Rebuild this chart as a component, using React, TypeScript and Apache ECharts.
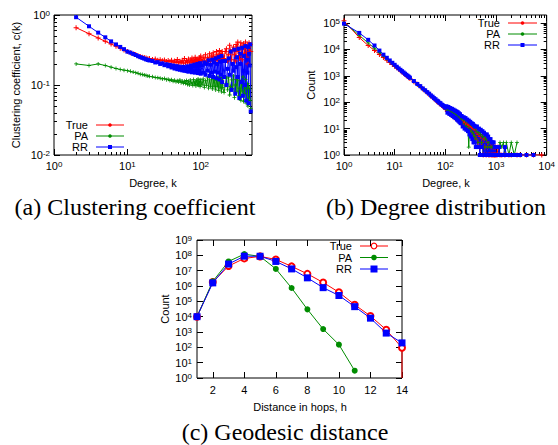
import React, { useEffect, useRef } from "react";
import * as echarts from "echarts";

// ---------- (a) Clustering coefficient ----------
const kA = [
  2, 3, 4, 5, 6, 7, 8, 9, 10, 11, 12, 13, 14, 15, 16, 17, 18, 19, 20,
  22, 24, 26, 28, 30, 32, 34, 36, 38, 40, 42, 44, 46, 48, 50, 52, 54, 56, 58, 60,
  62, 64, 66, 68, 70, 72, 74, 76, 78, 80, 82, 84, 86, 88, 90, 92, 94, 96, 98, 100,
  104, 108, 112, 116, 120, 124, 128, 132, 136, 140, 144, 148, 152, 156, 160, 164, 168, 172, 176, 180, 184, 188, 192, 196, 200,
  208, 216, 224, 232, 240, 248, 256, 264, 272, 280, 288, 296, 304, 312, 320, 328, 336, 344, 352, 360, 368, 376, 384, 392, 400, 408, 416, 424, 432, 440, 448, 456, 464, 472, 480,
];
const trueA = [
  0.66, 0.54, 0.47, 0.42, 0.385, 0.357, 0.334, 0.315, 0.3, 0.29, 0.28, 0.272, 0.262, 0.255, 0.25, 0.247, 0.243, 0.238, 0.24,
  0.232, 0.236, 0.226, 0.229, 0.222, 0.228, 0.216, 0.224, 0.214, 0.226, 0.212, 0.22, 0.209, 0.232, 0.207, 0.218, 0.21, 0.225, 0.205, 0.24,
  0.208, 0.222, 0.212, 0.235, 0.206, 0.228, 0.215, 0.244, 0.21, 0.226, 0.218, 0.25, 0.212, 0.232, 0.22, 0.238, 0.214, 0.246, 0.222, 0.26,
  0.215, 0.25, 0.222, 0.27, 0.21, 0.245, 0.23, 0.28, 0.218, 0.26, 0.235, 0.29, 0.22, 0.255, 0.24, 0.3, 0.225, 0.27, 0.25, 0.31, 0.23, 0.28, 0.245, 0.3, 0.26,
  0.24, 0.3, 0.33, 0.22, 0.27, 0.37, 0.3, 0.23, 0.32, 0.35, 0.27, 0.22, 0.38, 0.3, 0.41, 0.26, 0.24, 0.34, 0.4, 0.28, 0.23, 0.36, 0.39, 0.27, 0.33, 0.41, 0.29, 0.25, 0.37, 0.2, 0.35, 0.4, 0.3, 0.38, 0.3,
];
const paA = [
  0.2, 0.19, 0.2, 0.19, 0.18, 0.172, 0.167, 0.163, 0.16, 0.157, 0.153, 0.15, 0.147, 0.143, 0.141, 0.139, 0.137, 0.135, 0.133,
  0.131, 0.128, 0.127, 0.125, 0.122, 0.124, 0.119, 0.121, 0.116, 0.119, 0.113, 0.117, 0.111, 0.115, 0.11, 0.118, 0.108, 0.114, 0.106, 0.113,
  0.105, 0.116, 0.102, 0.112, 0.1, 0.118, 0.104, 0.11, 0.098, 0.12, 0.103, 0.112, 0.097, 0.117, 0.101, 0.122, 0.099, 0.113, 0.095, 0.119,
  0.1, 0.122, 0.092, 0.115, 0.098, 0.126, 0.09, 0.118, 0.096, 0.13, 0.088, 0.12, 0.094, 0.125, 0.085, 0.117, 0.095, 0.13, 0.083, 0.12, 0.09, 0.128, 0.08, 0.118, 0.092,
  0.078, 0.1, 0.125, 0.085, 0.13, 0.072, 0.095, 0.118, 0.088, 0.135, 0.066, 0.1, 0.12, 0.08, 0.128, 0.07, 0.09, 0.115, 0.06, 0.11, 0.082, 0.13, 0.058, 0.1, 0.075, 0.12, 0.055, 0.09, 0.105, 0.05, 0.095, 0.065, 0.088, 0.06, 0.046,
];
const rrA = [
  0.93, 0.69, 0.56, 0.48, 0.42, 0.38, 0.35, 0.325, 0.3, 0.29, 0.278, 0.268, 0.258, 0.25, 0.244, 0.238, 0.232, 0.228, 0.224,
  0.22, 0.21, 0.212, 0.2, 0.204, 0.192, 0.198, 0.185, 0.194, 0.178, 0.19, 0.172, 0.186, 0.168, 0.184, 0.165, 0.18, 0.162, 0.182, 0.16,
  0.178, 0.158, 0.185, 0.155, 0.18, 0.16, 0.19, 0.152, 0.182, 0.158, 0.195, 0.15, 0.184, 0.162, 0.2, 0.148, 0.188, 0.16, 0.205, 0.145,
  0.19, 0.15, 0.21, 0.14, 0.2, 0.16, 0.225, 0.135, 0.195, 0.15, 0.23, 0.13, 0.21, 0.155, 0.24, 0.125, 0.2, 0.15, 0.25, 0.12, 0.215, 0.14, 0.26, 0.11, 0.22,
  0.13, 0.22, 0.1, 0.17, 0.24, 0.14, 0.3, 0.085, 0.2, 0.16, 0.32, 0.075, 0.18, 0.25, 0.13, 0.33, 0.065, 0.2, 0.28, 0.11, 0.34, 0.07, 0.16, 0.26, 0.1, 0.36, 0.06, 0.23, 0.15, 0.35, 0.055, 0.28, 0.19, 0.38, 0.042,
];

// ---------- (b) Degree distribution ----------
const kB = [
  1, 2, 3, 4, 5, 6, 7, 8, 9, 10, 11, 12, 13, 14, 15, 16, 17, 18, 19, 20,
  24, 28, 32, 36, 40, 44, 48, 52, 56, 60, 64, 68, 72, 76, 80, 84, 88, 92, 96, 100,
  105, 110, 115, 120, 125, 130, 135, 140, 145, 150, 155, 160, 165, 170, 175, 180, 185, 190, 195, 200,
  210, 220, 230, 240, 250, 260, 270, 280, 290, 300, 310, 320, 330, 340, 350, 360, 370, 380, 390, 400,
  420, 440, 460, 480, 500, 520, 540, 560, 580, 600, 620, 640, 660, 680, 700, 720, 740, 760, 780, 800, 820, 840, 860, 880, 900, 920, 940, 960, 980, 1000,
  1050, 1100, 1150, 1200, 1300, 1400, 1500, 1600, 1800, 2000, 2300, 2600, 3000, 4000, 5500, 8000,
];
const trueB: (number | null)[] = [
  120000, 28000, 14000, 9000, 6400, 4900, 3900, 3200, 2700, 2300, 2000, 1750, 1550, 1380, 1240, 1120, 1010, 930, 850, 780,
  600, 475, 390, 315, 268, 226, 200, 168, 152, 134, 124, 106, 103, 88, 87, 76, 72, 66, 63, 57,
  58, 44, 52, 38, 46, 33, 42, 30, 37, 26, 35, 24, 31, 22, 30, 20, 27, 18, 25, 17,
  21, 14, 19, 12, 17, 11, 15, 9, 14, 8, 13, 7, 12, 6, 11, 5, 10, 5, 9, 4,
  7, 3, 6, 2, 5, 3, 6, 1, 4, 2, 5, 1, 4, 2, 3, 1, 4, 1, 3, 2, 1, 3, 1, 2, 1, 2, 1, 1, 2, 1,
  1, 2, null, 1, 1, null, 1, null, 1, 1, null, 1, 1, 1, 1, 1,
];
const paB: (number | null)[] = [
  105000, 34000, 17500, 11000, 7600, 5600, 4400, 3600, 2950, 2500, 2150, 1870, 1650, 1460, 1310, 1180, 1070, 980, 900, 825,
  615, 470, 400, 320, 275, 232, 205, 172, 158, 140, 126, 112, 104, 92, 90, 80, 76, 70, 66, 60,
  62, 48, 55, 41, 50, 36, 45, 32, 40, 29, 38, 26, 34, 24, 32, 22, 30, 20, 27, 19,
  24, 15, 22, 13, 20, 12, 18, 10, 2, 9, 15, 8, 14, 7, 13, 6, 12, 5, 10, 4,
  8, 3, 7, 2, 6, 3, 5, 1, 5, 2, 4, 1, 4, 2, 3, 1, 3, 2, 1, 3, 1, 2, 1, 2, 1, 1, 2, 1, 1, 1,
  1, null, 1, 3, 2, 3, 1, 3, 1, 3, 1, 3, null, null, null, null,
];
const rrB: (number | null)[] = [
  94000, 42000, 23000, 14000, 9000, 6300, 4800, 3800, 3100, 2600, 2200, 1900, 1680, 1490, 1330, 1200, 1090, 1000, 920, 845,
  630, 490, 405, 330, 282, 240, 210, 180, 162, 142, 130, 115, 108, 96, 92, 82, 78, 72, 68, 62,
  70, 40, 66, 36, 60, 33, 56, 30, 52, 27, 48, 25, 45, 22, 42, 20, 38, 18, 35, 16,
  30, 12, 27, 10, 25, 9, 22, 8, 20, 6, 18, 5, 16, 4, 15, 3, 13, 3, 12, 2,
  12, 2, 10, 1, 9, 2, 8, 1, 7, 1, 6, 1, 6, 1, 5, 1, 4, 1, 4, 1, 3, 1, 3, 1, 3, 1, 2, 1, 2, 1,
  1, 1, 2, 1, 1, 1, 2, 1, 1, 1, 1, 1, 1, 1, 1, null,
];

// ---------- (c) Geodesic distance ----------
const hopsC = [1, 2, 3, 4, 5, 6, 7, 8, 9, 10, 11, 12, 13, 14];
const hopsTrueC = [1, 2, 3, 4, 5, 6, 7, 8, 9, 10, 11, 12, 13, 14, 14];
const trueC = [1e4, 1.8e6, 2e7, 6.3e7, 8.5e7, 5.4e7, 1.9e7, 6.2e6, 1.7e6, 3.9e5, 6e4, 1.1e4, 1.4e3, 93, 1];
const paC: (number | null)[] = [1e4, 2e6, 4e7, 1.2e8, 8.5e7, 1.3e7, 7.4e5, 3e4, 1.55e3, 150, 3, null, null, null];
const rrC = [1e4, 1.6e6, 2.7e7, 8.8e7, 8.7e7, 4e7, 1.3e7, 3.4e6, 7.8e5, 2.4e5, 4.5e4, 8e3, 850, 195];

// ---------- ticks ----------
const xMajorA = [1, 10, 100];
const xMinorA = [2, 3, 4, 5, 6, 7, 8, 9, 20, 30, 40, 50, 60, 70, 80, 90, 200, 300, 400];
const yMajorA = [0.01, 0.1, 1];
const yMinorA = [0.02, 0.03, 0.04, 0.05, 0.06, 0.07, 0.08, 0.09, 0.2, 0.3, 0.4, 0.5, 0.6, 0.7, 0.8, 0.9];
const xMajorB = [1, 10, 100, 1000, 10000];
const xMinorB = [2, 3, 4, 5, 6, 7, 8, 9, 20, 30, 40, 50, 60, 70, 80, 90, 200, 300, 400, 500, 600, 700, 800, 900, 2000, 3000, 4000, 5000, 6000, 7000, 8000, 9000];
const yMajorB = [1, 10, 100, 1000, 10000, 100000];
const yMinorB = [2, 3, 4, 5, 6, 7, 8, 9, 20, 30, 40, 50, 60, 70, 80, 90, 200, 300, 400, 500, 600, 700, 800, 900, 2000, 3000, 4000, 5000, 6000, 7000, 8000, 9000, 20000, 30000, 40000, 50000, 60000, 70000, 80000, 90000];
const xMajorC = [2, 4, 6, 8, 10, 12, 14];
const yMajorC = [1, 10, 100, 1e3, 1e4, 1e5, 1e6, 1e7, 1e8, 1e9];

const RED = "#ff0000";
const GREEN = "#008c00";
const BLUE = "#0000ff";
const SANS = "Liberation Sans";
const SERIF = "Liberation Serif";
const PLUS = "path://M2,0H3V2H5V3H3V5H2V3H0V2H2Z";

const lg = (a: number[]) => a.map((v) => Math.log10(v));

const pts = (xs: number[], ys: (number | null)[], logX: boolean) =>
  xs.flatMap((x, i) => {
    const y = ys[i];
    if (y == null) return [];
    return [[logX ? Math.log10(x) : x, Math.log10(y)]];
  });

const richPow = {
  b: { fontSize: 11, fontFamily: SANS, color: "#000", verticalAlign: "bottom" },
  s: { fontSize: 8, fontFamily: SANS, color: "#000", verticalAlign: "top" },
};
const powFmt = (v: number) => `{b|10}{s|${Math.round(v)}}`;

function axis(
  gridIndex: number,
  position: string,
  min: number,
  max: number,
  ticks: number[],
  len: number,
  label: null | { margin: number; pow: boolean }
) {
  return {
    type: "value",
    gridIndex,
    position,
    min,
    max,
    axisLine: { show: false, onZero: false },
    splitLine: { show: false },
    axisTick: {
      show: true,
      inside: true,
      length: len,
      customValues: ticks,
      lineStyle: { color: "#000", width: 1 },
    },
    axisLabel: label
      ? {
          show: true,
          customValues: ticks,
          margin: label.margin,
          color: "#000",
          fontSize: 11,
          fontFamily: SANS,
          formatter: label.pow ? powFmt : (v: number) => String(Math.round(v)),
          rich: label.pow ? richPow : undefined,
        }
      : { show: false },
  };
}

function txt(x: number, y: number, text: string, size: number, family: string, align = "center", rotation = 0) {
  return {
    type: "text",
    x,
    y,
    rotation,
    silent: true,
    style: { text, fontSize: size, fontFamily: family, fill: "#000", align, verticalAlign: "middle" },
  };
}

function legendRow(
  xText: number,
  x1: number,
  x2: number,
  y: number,
  label: string,
  color: string,
  marker: "dot" | "square" | "ring" | "bigdot" | "bigsquare"
) {
  const cx = (x1 + x2) / 2;
  const els: any[] = [
    txt(xText, y, label, 11, SANS, "right"),
    { type: "line", silent: true, shape: { x1, y1: y, x2, y2: y }, style: { stroke: color, lineWidth: 1 } },
  ];
  if (marker === "dot") els.push({ type: "circle", silent: true, shape: { cx, cy: y, r: 1.8 }, style: { fill: color } });
  if (marker === "square")
    els.push({ type: "rect", silent: true, shape: { x: cx - 2, y: y - 2, width: 4, height: 4 }, style: { fill: color } });
  if (marker === "ring")
    els.push({ type: "circle", silent: true, shape: { cx, cy: y, r: 2.8 }, style: { fill: "#fff", stroke: color, lineWidth: 1.2 } });
  if (marker === "bigdot") els.push({ type: "circle", silent: true, shape: { cx, cy: y, r: 2.8 }, style: { fill: color } });
  if (marker === "bigsquare")
    els.push({ type: "rect", silent: true, shape: { x: cx - 3.5, y: y - 3.5, width: 7, height: 7 }, style: { fill: color } });
  return els;
}

function lineSeries(name: string, xi: number, yi: number, data: any[], color: string, symbol: string, size: number, extra: any = {}) {
  return {
    type: "line",
    name,
    xAxisIndex: xi,
    yAxisIndex: yi,
    data,
    symbol,
    symbolSize: size,
    showAllSymbol: true,
    lineStyle: { color, width: 1 },
    itemStyle: { color },
    emphasis: { disabled: true },
    animation: false,
    ...extra,
  };
}

export default function App() {
  const ref = useRef<HTMLDivElement>(null);
  useEffect(() => {
    if (!ref.current) return;
    const chart = echarts.init(ref.current, undefined, { renderer: "svg" });

    const axMaxA = Math.log10(500);
    const axMaxB = Math.log10(200000);

    const xAxis = [
      axis(0, "bottom", 0, axMaxA, lg(xMajorA), 6, { margin: 5, pow: true }),
      axis(0, "bottom", 0, axMaxA, lg(xMinorA), 3, null),
      axis(0, "top", 0, axMaxA, lg(xMajorA), 6, null),
      axis(0, "top", 0, axMaxA, lg(xMinorA), 3, null),
      axis(1, "bottom", 0, 4, lg(xMajorB), 6, { margin: 5, pow: true }),
      axis(1, "bottom", 0, 4, lg(xMinorB), 3, null),
      axis(1, "top", 0, 4, lg(xMajorB), 6, null),
      axis(1, "top", 0, 4, lg(xMinorB), 3, null),
      axis(2, "bottom", 1, 14, xMajorC, 6, { margin: 6, pow: false }),
      axis(2, "top", 1, 14, xMajorC, 6, null),
    ];
    const yAxis = [
      axis(0, "left", -2, 0, lg(yMajorA), 6, { margin: 4, pow: true }),
      axis(0, "left", -2, 0, lg(yMinorA), 3, null),
      axis(0, "right", -2, 0, lg(yMajorA), 6, null),
      axis(0, "right", -2, 0, lg(yMinorA), 3, null),
      axis(1, "left", 0, axMaxB, lg(yMajorB), 6, { margin: 4, pow: true }),
      axis(1, "left", 0, axMaxB, lg(yMinorB), 3, null),
      axis(1, "right", 0, axMaxB, lg(yMajorB), 6, null),
      axis(1, "right", 0, axMaxB, lg(yMinorB), 3, null),
      axis(2, "left", 0, 9, lg(yMajorC), 6, { margin: 5, pow: true }),
      axis(2, "right", 0, 9, lg(yMajorC), 6, null),
    ];

    const trueCData = pts(hopsTrueC, trueC, false).map((p, i) =>
      trueC[i] <= 1 ? { value: p, symbol: "none" } : { value: p }
    );

    const series = [
      lineSeries("True", 0, 0, pts(kA, trueA, true), RED, PLUS, 5),
      lineSeries("PA", 0, 0, pts(kA, paA, true), GREEN, PLUS, 4),
      lineSeries("RR", 0, 0, pts(kA, rrA, true), BLUE, "rect", 4),
      lineSeries("True", 4, 4, pts(kB, trueB, true), RED, PLUS, 5),
      lineSeries("PA", 4, 4, pts(kB, paB, true), GREEN, PLUS, 4),
      lineSeries("RR", 4, 4, pts(kB, rrB, true), BLUE, "rect", 4),
      lineSeries("True", 8, 8, trueCData, RED, "emptyCircle", 6, { itemStyle: { color: RED, borderWidth: 1.2 } }),
      lineSeries("PA", 8, 8, pts(hopsC, paC, false), GREEN, "circle", 6),
      lineSeries("RR", 8, 8, pts(hopsC, rrC, false), BLUE, "rect", 7),
    ];

    const graphic = [
      // captions
      txt(135, 207, "(a) Clustering coefficient", 24, SERIF),
      txt(436, 207, "(b) Degree distribution", 24, SERIF),
      txt(285, 432, "(c) Geodesic distance", 24, SERIF),
      // axis titles
      txt(16, 85, "Clustering coefficient, c(k)", 11, SANS, "center", Math.PI / 2),
      txt(153, 183, "Degree, k", 11, SANS),
      txt(311, 85, "Count", 11, SANS, "center", Math.PI / 2),
      txt(446, 183, "Degree, k", 11, SANS),
      txt(165, 309, "Count", 11, SANS, "center", Math.PI / 2),
      txt(300, 407, "Distance in hops, h", 11, SANS),
      // legends
      ...legendRow(88, 96, 124, 125, "True", RED, "dot"),
      ...legendRow(88, 96, 124, 136, "PA", GREEN, "dot"),
      ...legendRow(88, 96, 124, 147, "RR", BLUE, "square"),
      ...legendRow(500, 508, 537, 23, "True", RED, "dot"),
      ...legendRow(500, 508, 537, 34, "PA", GREEN, "dot"),
      ...legendRow(500, 508, 537, 45, "RR", BLUE, "square"),
      ...legendRow(352, 360, 388, 246, "True", RED, "ring"),
      ...legendRow(352, 360, 388, 257.5, "PA", GREEN, "bigdot"),
      ...legendRow(352, 360, 388, 269, "RR", BLUE, "bigsquare"),
    ];

    chart.setOption({
      animation: false,
      backgroundColor: "#ffffff",
      grid: [
        { left: 54, top: 15, width: 198, height: 140, show: true, borderColor: "#000", borderWidth: 1, backgroundColor: "transparent", containLabel: false },
        { left: 344, top: 15, width: 203, height: 140, show: true, borderColor: "#000", borderWidth: 1, backgroundColor: "transparent", containLabel: false },
        { left: 197, top: 240, width: 205, height: 138, show: true, borderColor: "#000", borderWidth: 1, backgroundColor: "transparent", containLabel: false },
      ],
      xAxis,
      yAxis,
      series,
      graphic,
    });
    return () => chart.dispose();
  }, []);

  return (
    <div
      ref={ref}
      style={{ position: "fixed", left: 0, top: 0, width: 558, height: 445, background: "#fff" }}
    />
  );
}
